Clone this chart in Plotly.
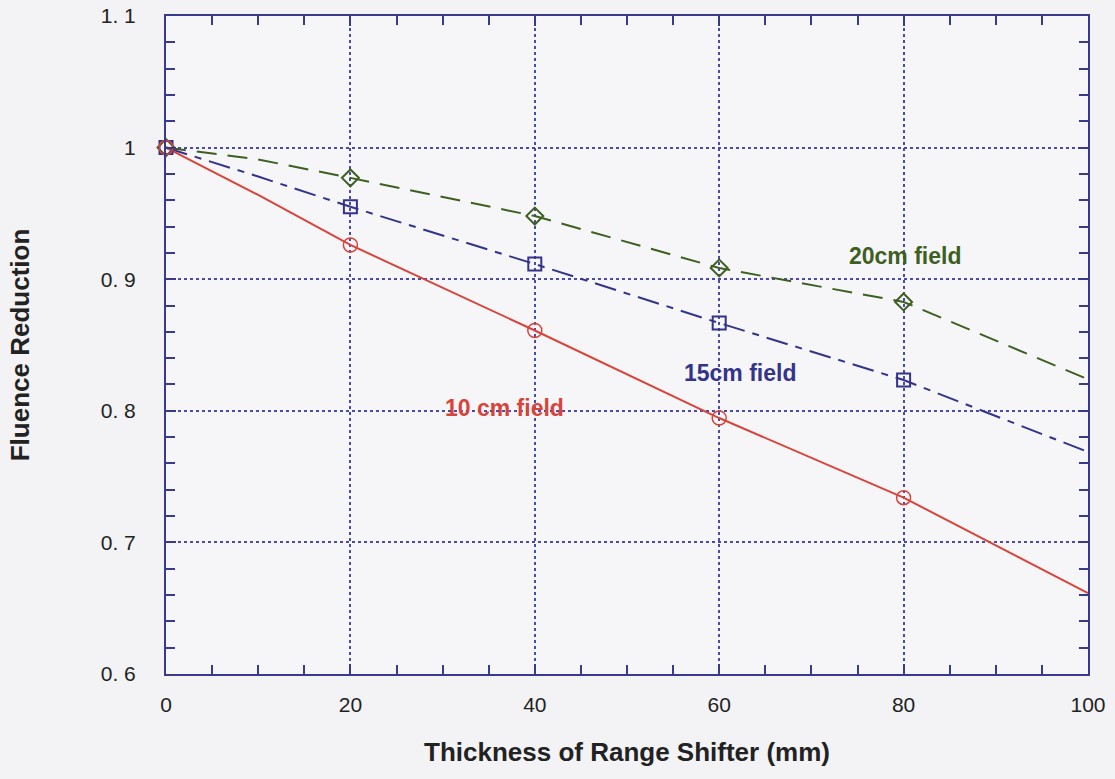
import plotly.graph_objects as go

# Data
thickness = [0, 10, 20, 40, 60, 80, 100]
field10 = [1.0, 0.964, 0.926, 0.861, 0.7945, 0.734, 0.6615]
field15 = [1.0, 0.978, 0.955, 0.9115, 0.8667, 0.8234, 0.7687]
field20 = [1.0, 0.991, 0.977, 0.948, 0.9085, 0.8827, 0.824]

marker_x = [0, 20, 40, 60, 80]
m10 = [1.0, 0.926, 0.861, 0.7945, 0.734]
m15 = [1.0, 0.955, 0.9115, 0.8667, 0.8234]
m20 = [1.0, 0.977, 0.948, 0.9085, 0.8827]

x_ticks = [0, 20, 40, 60, 80, 100]
y_ticks = [0.6, 0.7, 0.8, 0.9, 1.0, 1.1]
y_ticktext = ["0. 6", "0. 7", "0. 8", "0. 9", "1", "1. 1"]

RED = "#d8443a"
NAVY = "#33338a"
GREEN = "#3d5f1f"
AXIS = "#3a3a8c"
FONT = "Liberation Sans, Arial, sans-serif"
NARROW = "Liberation Sans Narrow, Arial Narrow, Liberation Sans, sans-serif"

fig = go.Figure()

fig.add_trace(go.Scatter(x=thickness, y=field20, mode="lines",
                         line=dict(color=GREEN, width=2, dash="20px,11px"),
                         showlegend=False, cliponaxis=False))
fig.add_trace(go.Scatter(x=thickness, y=field15, mode="lines",
                         line=dict(color=NAVY, width=2, dash="22px,8px,7px,8px"),
                         showlegend=False, cliponaxis=False))
fig.add_trace(go.Scatter(x=thickness, y=field10, mode="lines",
                         line=dict(color=RED, width=2),
                         showlegend=False, cliponaxis=False))

fig.add_trace(go.Scatter(x=marker_x, y=m20, mode="markers",
                         marker=dict(symbol="diamond-open", size=13, color=GREEN, line=dict(width=2, color=GREEN)),
                         showlegend=False, cliponaxis=False))
fig.add_trace(go.Scatter(x=marker_x, y=m15, mode="markers",
                         marker=dict(symbol="square-open", size=13, color=NAVY, line=dict(width=2, color=NAVY)),
                         showlegend=False, cliponaxis=False))
fig.add_trace(go.Scatter(x=marker_x, y=m10, mode="markers",
                         marker=dict(symbol="circle-open", size=14, color=RED, line=dict(width=1.5, color=RED)),
                         showlegend=False, cliponaxis=False))

fig.add_annotation(x=80.2, y=0.9176, text="<b>20cm field</b>", showarrow=False,
                   font=dict(family=FONT, size=23, color=GREEN))
fig.add_annotation(x=62.3, y=0.8287, text="<b>15cm field</b>", showarrow=False,
                   font=dict(family=FONT, size=23, color=NAVY))
fig.add_annotation(x=36.7, y=0.8021, text="<b>10 cm field</b>", showarrow=False,
                   font=dict(family=FONT, size=23, color=RED))

axis_common = dict(
    showline=True, linecolor=AXIS, linewidth=2, mirror="allticks",
    ticks="inside", ticklen=10, tickwidth=2, tickcolor=AXIS,
    showgrid=True, gridcolor="#4a4aa8", griddash="dot", gridwidth=1.5,
    zeroline=False, automargin=False,
    tickfont=dict(family=NARROW, size=21, color="#222222"),
)

fig.update_xaxes(
    range=[0, 100], tickvals=x_ticks, ticklabelstandoff=11,
    minor=dict(dtick=5, ticks="inside", ticklen=9, tickwidth=2, tickcolor=AXIS, showgrid=False),
    title=dict(text="<b>Thickness of Range Shifter (mm)</b>", standoff=28,
               font=dict(family=FONT, size=26, color="#222222")),
    **axis_common,
)
fig.update_yaxes(
    range=[0.6, 1.1], tickvals=y_ticks, ticktext=y_ticktext, ticklabelstandoff=24,
    minor=dict(dtick=0.02, ticks="inside", ticklen=9, tickwidth=2, tickcolor=AXIS, showgrid=False),
    title=dict(text="<b>Fluence Reduction</b>", standoff=64,
               font=dict(family=FONT, size=26, color="#222222")),
    **axis_common,
)

fig.update_layout(
    width=1115, height=779,
    margin=dict(l=166, r=27, t=16, b=105),
    paper_bgcolor="#f3f3f6", plot_bgcolor="#f6f6f8",
    font=dict(family=FONT),
)

fig.write_html("out.html")
